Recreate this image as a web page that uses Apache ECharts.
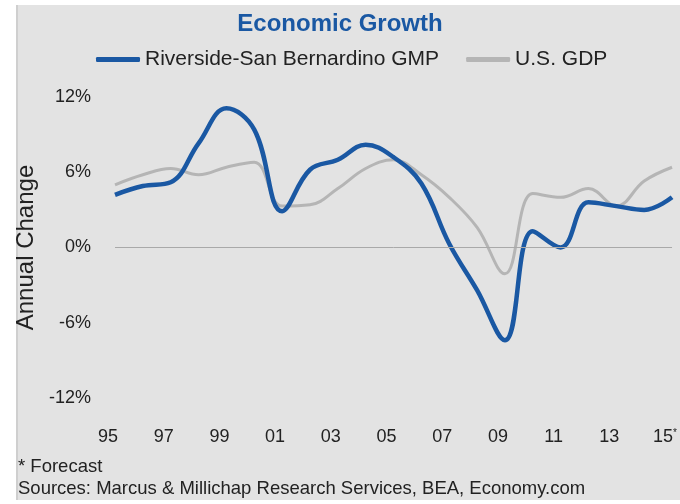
<!DOCTYPE html>
<html>
<head>
<meta charset="utf-8">
<title>Economic Growth</title>
<script src="https://cdn.jsdelivr.net/npm/echarts@6/dist/echarts.min.js"></script>
<style>
  html, body { margin: 0; padding: 0; background: #ffffff; }
  #chart { width: 680px; height: 504px; }
</style>
</head>
<body>
<div id="chart"></div>
<script>
// Annual change, percent
const years = [1995, 1996, 1997, 1998, 1999, 2000, 2001, 2002, 2003, 2004, 2005,
               2006, 2007, 2008, 2009, 2010, 2011, 2012, 2013, 2014, 2015];
const riversideGMP = [4.2, 4.9, 5.2, 8.3, 11.1, 9.4, 2.9, 6.2, 7.0, 8.2, 7.2,
                      5.1, 0.3, -3.4, -7.4, 1.3, 0.0, 3.6, 3.3, 3.0, 4.0];
const usGDP = [5.0, 5.8, 6.3, 5.8, 6.4, 6.8, 3.3, 3.4, 4.7, 6.3, 7.0,
               5.8, 4.0, 1.6, -2.1, 4.3, 4.0, 4.7, 3.3, 5.3, 6.4];
const yTicks = [-12, -6, 0, 6, 12];
const forecastYear = 2015;

const FONT = '"Liberation Sans", Arial, Helvetica, sans-serif';
const BLUE = '#1a58a3';
const GREY = '#b5b5b5';

const pairs = (xs, ys) => xs.map((x, i) => [x, ys[i]]);

const chart = echarts.init(document.getElementById('chart'), null, { renderer: 'canvas' });

chart.setOption({
  backgroundColor: '#ffffff',
  animation: false,
  textStyle: { fontFamily: FONT },
  graphic: [
    { type: 'rect', z: -10, shape: { x: 17, y: 5, width: 663, height: 495 },
      style: { fill: '#e3e3e3' } },
    { type: 'line', z: -9, shape: { x1: 17, y1: 5, x2: 17, y2: 500 },
      style: { stroke: '#cfcfcf', lineWidth: 2 } },
    { type: 'text', left: 18, top: 457,
      style: { text: '* Forecast', font: '18.5px ' + FONT, fill: '#222222' } },
    { type: 'text', left: 18, top: 479,
      style: { text: 'Sources: Marcus & Millichap Research Services, BEA, Economy.com',
               font: '18.5px ' + FONT, fill: '#222222' } }
  ],
  title: {
    text: 'Economic Growth',
    left: 'center',
    top: 7,
    textStyle: { fontFamily: FONT, fontSize: 24, fontWeight: 'bold', color: BLUE }
  },
  legend: {
    left: 91,
    top: 44,
    icon: 'roundRect',
    itemWidth: 44,
    itemHeight: 5,
    itemGap: 27,
    textStyle: { fontFamily: FONT, fontSize: 21, color: '#222222' },
    data: ['Riverside-San Bernardino GMP', 'U.S. GDP']
  },
  grid: { left: 115, right: 7, top: 97, height: 301, containLabel: false },
  xAxis: {
    type: 'value',
    min: years[0],
    max: years[years.length - 1],
    interval: 2,
    axisLine: { show: false },
    axisTick: { show: false },
    splitLine: { show: false },
    axisLabel: {
      margin: 30,
      fontSize: 18,
      color: '#222222',
      padding: [0, 14, 0, 0],
      formatter: v => {
        const s = String(v % 100).padStart(2, '0');
        return v === forecastYear ? s + '{s|*}' : s;
      },
      rich: { s: { fontSize: 10, verticalAlign: 'top', color: '#222222', padding: [0, 0, 8, 0] } }
    }
  },
  yAxis: {
    type: 'value',
    min: yTicks[0],
    max: yTicks[yTicks.length - 1],
    interval: 6,
    name: 'Annual Change',
    nameLocation: 'middle',
    nameGap: 73,
    nameTextStyle: { fontFamily: FONT, fontSize: 24, color: '#222222' },
    axisLine: { show: false },
    axisTick: { show: false },
    splitLine: { show: false },
    axisLabel: { margin: 24, fontSize: 18, color: '#222222', formatter: '{value}%' }
  },
  series: [
    {
      name: 'U.S. GDP',
      type: 'line',
      data: pairs(years, usGDP),
      smooth: 0.4,
      showSymbol: false,
      symbol: 'none',
      z: 3,
      lineStyle: { color: GREY, width: 3 },
      itemStyle: { color: GREY },
      markLine: {
        silent: true,
        symbol: 'none',
        label: { show: false },
        lineStyle: { color: '#a9a9a9', width: 1, type: 'solid' },
        data: [{ yAxis: 0 }]
      }
    },
    {
      name: 'Riverside-San Bernardino GMP',
      type: 'line',
      data: pairs(years, riversideGMP),
      smooth: 0.4,
      showSymbol: false,
      symbol: 'none',
      z: 4,
      lineStyle: { color: BLUE, width: 4.5 },
      itemStyle: { color: BLUE }
    }
  ]
});
</script>
</body>
</html>
